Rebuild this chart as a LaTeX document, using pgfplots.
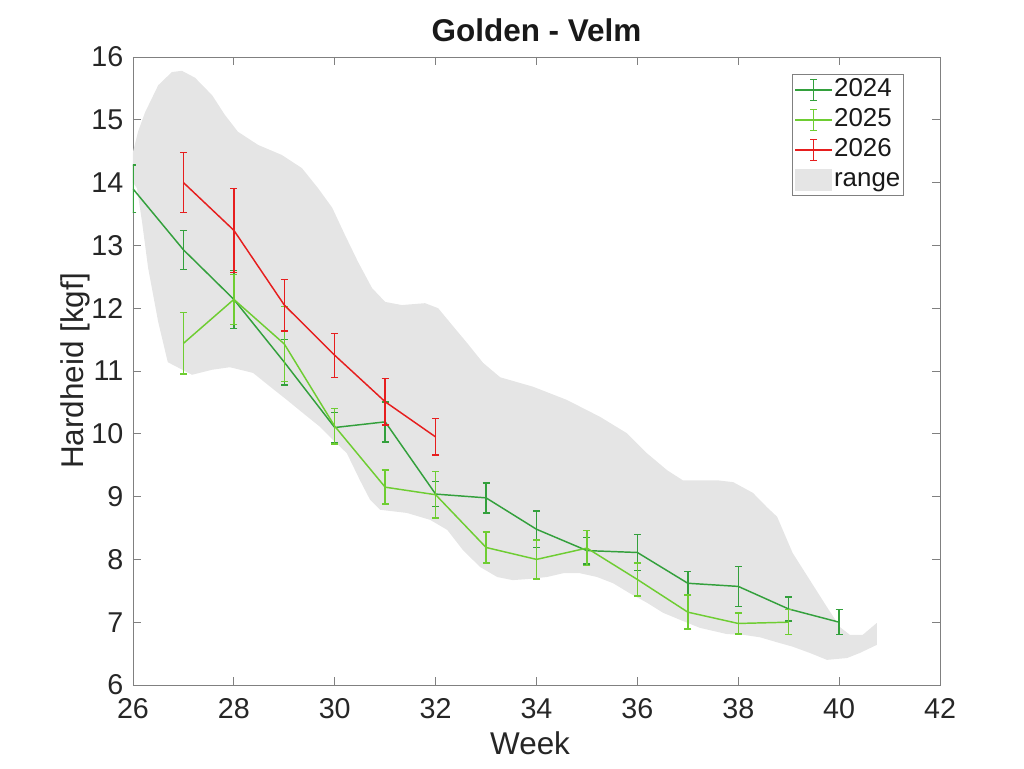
\documentclass[border=0pt]{standalone}
\usepackage{pgfplots}
\pgfplotsset{compat=1.18}
\usepackage{fontspec}
\setmainfont{Liberation Sans}
\definecolor{c24}{RGB}{51,160,60}
\definecolor{c25}{RGB}{110,205,50}
\definecolor{c26}{RGB}{230,30,30}
\definecolor{rangec}{RGB}{229,229,229}
\definecolor{axc}{RGB}{128,128,128}
\definecolor{txt}{RGB}{38,38,38}
\begin{document}
\begin{tikzpicture}
\useasboundingbox (-99.75pt,-62.25pt) rectangle (668.25pt,513.75pt);
\begin{axis}[
  scale only axis,
  width=605.25pt, height=471pt,
  xmin=26, xmax=42, ymin=6, ymax=16,
  xtick={26,28,...,42}, ytick={6,7,...,16},
  tick align=inside, major tick length=6pt,
  axis line style={axc, line width=0.6pt},
  tick style={axc, line width=0.6pt},
  /pgf/number format/assume math mode=true,
  tick label style={font=\fontsize{21.5}{25}\selectfont, text=txt},
  xticklabel style={yshift=-6.75pt},
  yticklabel style={xshift=-3.75pt},
  xlabel={Week}, ylabel={Hardheid [kgf]},
  label style={font=\fontsize{23.6}{28}\selectfont, text=txt},
  xlabel style={at={(axis description cs:0.492,-0.1099)}, anchor=base},
  ylabel style={at={(axis description cs:-0.0719,0.5)}, anchor=center},
  title={Golden - Velm},
  title style={font=\bfseries\fontsize{23.6}{28}\selectfont, text=black!90, at={(axis description cs:0.5,1.0127)}, anchor=base},
  legend style={at={(0.9554,0.9729)}, anchor=north east, draw=axc, line width=0.6pt,
    font=\fontsize{19.4}{22}\selectfont, text=black!90, inner xsep=1.5pt, inner ysep=0.5pt, row sep=0pt,
    nodes={inner xsep=1pt, inner ysep=2.25pt, text height=14pt, text depth=4pt}},
  legend cell align=left,
  eb/.style={line width=1.1pt,
    error bars/y dir=both, error bars/y explicit,
    error bars/error bar style={draw=#1, line width=1.1pt},
    error bars/error mark=-,
    error bars/error mark options={rotate=90, draw=#1, line width=1.1pt, mark size=2.6pt}},
  ebleg/.style={legend image code/.code={
    \draw[draw=#1, line width=1.1pt] (0pt,0pt) -- (27.5pt,0pt);
    \draw[draw=#1, line width=1.1pt] (13.75pt,-8pt) -- (13.75pt,8pt);
    \draw[draw=#1, line width=1.1pt] (11.15pt,-8pt) -- (16.35pt,-8pt);
    \draw[draw=#1, line width=1.1pt] (11.15pt,8pt) -- (16.35pt,8pt);}},
]
\addplot[fill=rangec, draw=none, forget plot] coordinates {
(26.00,14.49) (26.10,14.81) (26.24,15.12) (26.50,15.55) (26.77,15.76) (26.97,15.78)
(27.23,15.67) (27.57,15.39) (27.82,15.08) (28.08,14.81) (28.48,14.60) (28.95,14.44)
(29.35,14.23) (29.67,13.91) (29.95,13.60) (30.20,13.17) (30.46,12.74) (30.74,12.32)
(31.00,12.10) (31.33,12.05) (31.79,12.08) (32.05,12.00) (32.38,11.68) (32.62,11.45)
(32.94,11.13) (33.28,10.90) (33.93,10.75) (34.60,10.54) (35.26,10.27) (35.79,10.01)
(36.19,9.69) (36.59,9.42) (36.90,9.26) (37.58,9.26) (37.90,9.23) (38.29,9.06)
(38.57,8.83) (38.77,8.68) (39.08,8.10) (39.42,7.67) (39.76,7.24) (40.02,6.92)
(40.21,6.80) (40.47,6.80) (40.75,6.99) (40.75,6.64) (40.41,6.51) (40.16,6.43)
(39.76,6.40) (39.42,6.51) (39.08,6.61) (38.77,6.68) (38.43,6.76) (38.09,6.80)
(37.78,6.81) (37.24,6.91) (36.84,7.04) (36.51,7.15) (36.19,7.31) (35.85,7.46)
(35.52,7.62) (35.20,7.72) (34.86,7.78) (34.53,7.78) (34.21,7.72) (33.87,7.69)
(33.53,7.67) (33.22,7.72) (32.88,7.88) (32.54,8.15) (32.23,8.47) (31.89,8.63)
(31.43,8.74) (30.90,8.79) (30.70,8.95) (30.50,9.26) (30.24,9.69) (29.97,9.90)
(29.71,10.11) (29.37,10.33) (29.05,10.54) (28.72,10.75) (28.38,10.97) (27.92,11.06)
(27.57,11.02) (27.17,10.94) (26.69,11.14) (26.50,11.78) (26.30,12.64) (26.18,13.37)
(26.08,13.91) (26.00,14.00) (26.00,14.49)} -- cycle;
\addplot[c24, eb=c24, ebleg=c24] table[x=x, y=y, y error=e] {
x y e
26 13.90 0.38
27 12.93 0.31
28 12.14 0.46
29 11.14 0.36
30 10.10 0.24
31 10.19 0.32
32 9.04 0.20
33 8.98 0.24
34 8.48 0.29
35 8.14 0.21
36 8.11 0.29
37 7.62 0.19
38 7.57 0.32
39 7.21 0.19
40 7.00 0.20
};
\addlegendentry{2024}
\addplot[c25, eb=c25, ebleg=c25] table[x=x, y=y, y error=e] {
x y e
27 11.44 0.49
28 12.14 0.40
29 11.43 0.60
30 10.12 0.28
31 9.15 0.27
32 9.03 0.37
33 8.19 0.25
34 8.00 0.31
35 8.18 0.28
36 7.68 0.26
37 7.16 0.27
38 6.98 0.17
39 7.00 0.20
};
\addlegendentry{2025}
\addplot[c26, eb=c26, ebleg=c26] table[x=x, y=y, y error=e] {
x y e
27 14.00 0.48
28 13.24 0.67
29 12.05 0.41
30 11.25 0.35
31 10.51 0.37
32 9.95 0.29
};
\addlegendentry{2026}
\addlegendimage{legend image code/.code={\fill[rangec] (0pt,-7.9pt) rectangle (27pt,7.9pt);}}
\addlegendentry{range}
\end{axis}
\end{tikzpicture}
\end{document}
